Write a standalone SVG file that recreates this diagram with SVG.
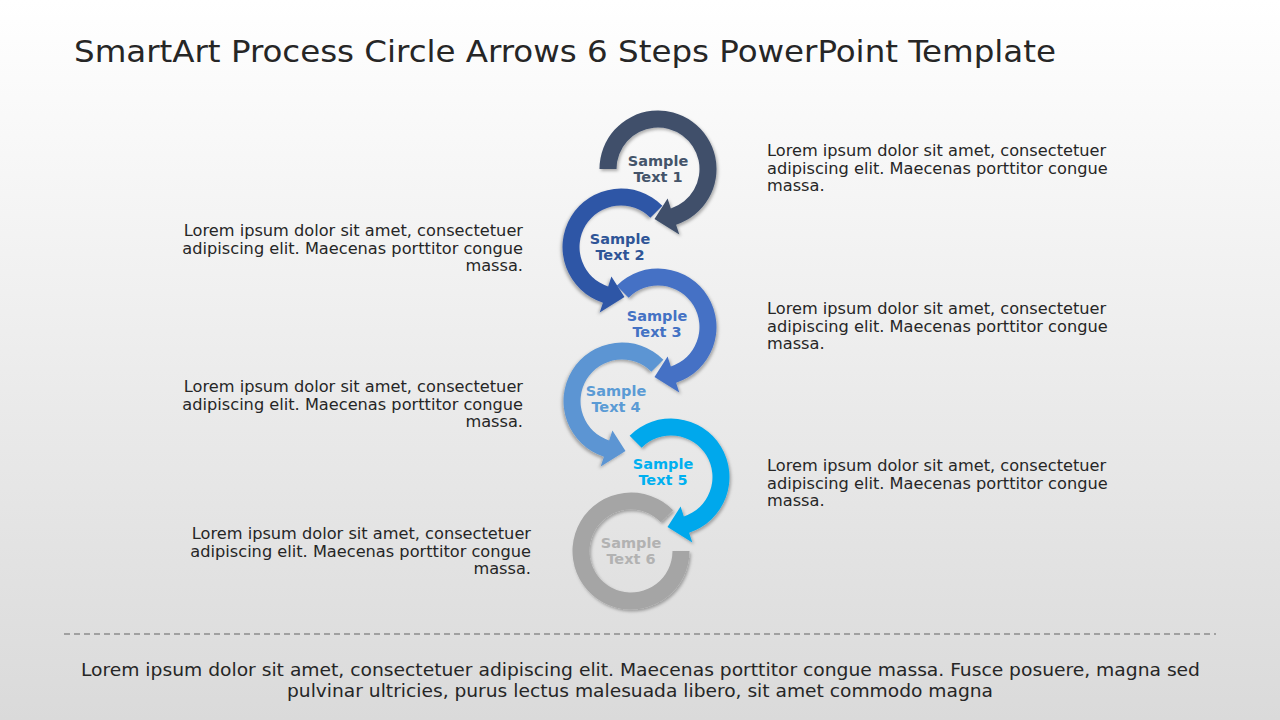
<svg xmlns="http://www.w3.org/2000/svg" width="1280" height="720" viewBox="0 0 1280 720">
  <defs>
    <linearGradient id="bg" x1="0" y1="0" x2="0" y2="1">
      <stop offset="0" stop-color="#ffffff"/>
      <stop offset="1" stop-color="#dadada"/>
    </linearGradient>
    <filter id="sh" x="-20%" y="-20%" width="140%" height="140%">
      <feDropShadow dx="1.5" dy="2" stdDeviation="1.5" flood-color="#000" flood-opacity="0.3"/>
    </filter>
    <path id="arrowA" d="M -41.37 -41.37 A 58.5 58.5 0 1 1 18.08 55.64 L 21.3 65.6 L -3.5 50 L 9.6 29.5 L 12.82 39.47 A 41.5 41.5 0 1 0 -29.35 -29.35 Z"/>
    <path id="arrowB" d="M -58.5 0 A 58.5 58.5 0 1 1 18.08 55.64 L 21.3 65.6 L -3.5 50 L 9.6 29.5 L 12.82 39.47 A 41.5 41.5 0 1 0 -41.5 0 Z"/>
    <path id="ringC" d="M 58.5 0 A 58.5 58.5 0 1 1 42.08 -40.64 L 29.85 -28.83 A 41.5 41.5 0 1 0 41.5 0 Z"/>
  </defs>
  <style>
    .title { font-family: "DejaVu Sans", "Liberation Sans", sans-serif; font-stretch: condensed; font-size: 31px; fill: #262626; }
    .body { font-family: "DejaVu Sans", "Liberation Sans", sans-serif; font-size: 16.2px; fill: #262626; }
    .foot { font-family: "DejaVu Sans", "Liberation Sans", sans-serif; font-stretch: condensed; font-size: 18.5px; fill: #262626; }
    .lbl { font-family: "DejaVu Sans", "Liberation Sans", sans-serif; font-weight: bold; font-size: 14.5px; text-anchor: middle; }
    .r { text-anchor: end; }
  </style>
  <rect width="1280" height="720" fill="url(#bg)"/>
  <text class="title" x="74" y="62" textLength="982" lengthAdjust="spacingAndGlyphs">SmartArt Process Circle Arrows 6 Steps PowerPoint Template</text>

  <g id="connectors"></g>

  <g id="step6">
    <use href="#ringC" transform="translate(631,551)" fill="#A5A5A5" filter="url(#sh)"/>
    <text class="lbl" fill="#B2B2B2"><tspan x="631" y="548">Sample</tspan><tspan x="631" y="564">Text 6</tspan></text>
  </g>
  <g id="step5">
    <use href="#arrowA" transform="translate(671,477)" fill="#00A8EC" filter="url(#sh)"/>
    <text class="lbl" fill="#00B0F0"><tspan x="663" y="469">Sample</tspan><tspan x="663" y="485">Text 5</tspan></text>
  </g>
  <g id="step4">
    <use href="#arrowA" transform="translate(622,401) scale(-1,1)" fill="#5B95D3" filter="url(#sh)"/>
    <text class="lbl" fill="#5B9BD5"><tspan x="616" y="396">Sample</tspan><tspan x="616" y="412">Text 4</tspan></text>
  </g>
  <g id="step3">
    <use href="#arrowA" transform="translate(658,327)" fill="#4571C5" filter="url(#sh)"/>
    <text class="lbl" fill="#4472C4"><tspan x="657" y="321">Sample</tspan><tspan x="657" y="337">Text 3</tspan></text>
  </g>
  <g id="step2">
    <use href="#arrowA" transform="translate(621,247) scale(-1,1)" fill="#2F56A6" filter="url(#sh)"/>
    <text class="lbl" fill="#2F5597"><tspan x="620" y="244">Sample</tspan><tspan x="620" y="260">Text 2</tspan></text>
  </g>
  <g id="step1">
    <use href="#arrowB" transform="translate(658,169)" fill="#3F4F6B" filter="url(#sh)"/>
    <text class="lbl" fill="#44546A"><tspan x="658" y="166">Sample</tspan><tspan x="658" y="182">Text 1</tspan></text>
  </g>

  <g id="desc1">
    <text class="body"><tspan x="767" y="156">Lorem ipsum dolor sit amet, consectetuer</tspan><tspan x="767" y="174">adipiscing elit. Maecenas porttitor congue</tspan><tspan x="767" y="191">massa.</tspan></text>
  </g>
  <g id="desc2">
    <text class="body r"><tspan x="523" y="236">Lorem ipsum dolor sit amet, consectetuer</tspan><tspan x="523" y="254">adipiscing elit. Maecenas porttitor congue</tspan><tspan x="523" y="271">massa.</tspan></text>
  </g>
  <g id="desc3">
    <text class="body"><tspan x="767" y="314">Lorem ipsum dolor sit amet, consectetuer</tspan><tspan x="767" y="332">adipiscing elit. Maecenas porttitor congue</tspan><tspan x="767" y="349">massa.</tspan></text>
  </g>
  <g id="desc4">
    <text class="body r"><tspan x="523" y="392">Lorem ipsum dolor sit amet, consectetuer</tspan><tspan x="523" y="410">adipiscing elit. Maecenas porttitor congue</tspan><tspan x="523" y="427">massa.</tspan></text>
  </g>
  <g id="desc5">
    <text class="body"><tspan x="767" y="471">Lorem ipsum dolor sit amet, consectetuer</tspan><tspan x="767" y="489">adipiscing elit. Maecenas porttitor congue</tspan><tspan x="767" y="506">massa.</tspan></text>
  </g>
  <g id="desc6">
    <text class="body r"><tspan x="531" y="539">Lorem ipsum dolor sit amet, consectetuer</tspan><tspan x="531" y="557">adipiscing elit. Maecenas porttitor congue</tspan><tspan x="531" y="574">massa.</tspan></text>
  </g>

  <line x1="64" y1="634" x2="1216" y2="634" stroke="#8c8c8c" stroke-width="1.3" stroke-dasharray="6 4"/>
  <text class="foot" x="81" y="676" textLength="1119" lengthAdjust="spacingAndGlyphs">Lorem ipsum dolor sit amet, consectetuer adipiscing elit. Maecenas porttitor congue massa. Fusce posuere, magna sed</text>
  <text class="foot" x="287" y="697" textLength="706" lengthAdjust="spacingAndGlyphs">pulvinar ultricies, purus lectus malesuada libero, sit amet commodo magna</text>
</svg>
